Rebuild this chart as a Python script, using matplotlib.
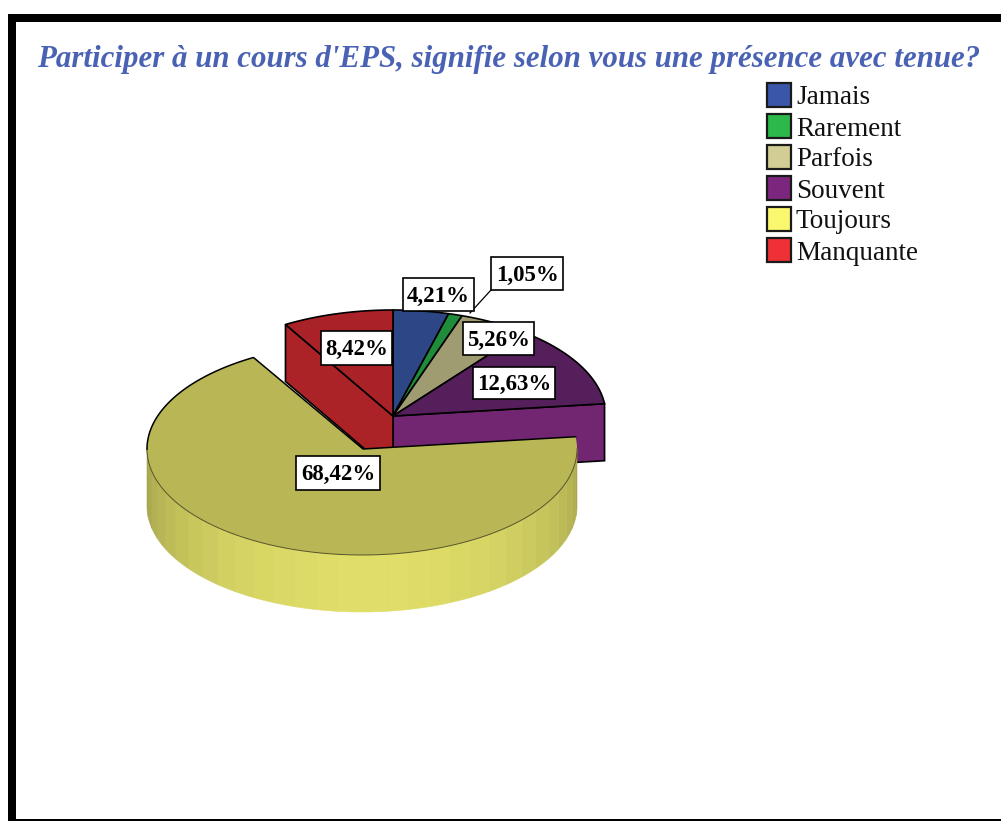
import numpy as np
import matplotlib
matplotlib.use("Agg")
import matplotlib.pyplot as plt
from matplotlib.patches import Polygon, Rectangle

categories = ["Jamais", "Rarement", "Parfois", "Souvent", "Toujours", "Manquante"]
values = [4.21, 1.05, 5.26, 12.63, 68.42, 8.42]
labels = ["4,21%", "1,05%", "5,26%", "12,63%", "68,42%", "8,42%"]
legend_colors = ["#3a56a8", "#2db84a", "#d2cd94", "#7c2680", "#fbf870", "#ef3037"]
top_colors = ["#2d4686", "#1f8c3b", "#a09c72", "#541f5b", "#b8b655", "#a92227"]
title = "Participer à un cours d'EPS, signifie selon vous une présence avec tenue?"

SERIF = "Liberation Serif"
W, H = 1001, 821
fig = plt.figure(figsize=(W / 100, H / 100), dpi=100, facecolor="white")
ax = fig.add_axes([0, 0, 1, 1])
ax.set_xlim(0, W)
ax.set_ylim(H, 0)
ax.axis("off")

# frame
ax.add_patch(Rectangle((8, 14), W - 8, 8, fc="black", ec="none"))
ax.add_patch(Rectangle((8, 14), 8, H - 14, fc="black", ec="none"))
ax.add_patch(Rectangle((8, 819), W - 8, 2, fc="black", ec="none"))

ax.text(509, 60, title, color="#4a62b4", family=SERIF, fontsize=22.25,
        style="italic", weight="bold", ha="center", va="center")

# geometry
RX, RY, DEPTH = 213, 106, 57
RX1 = 215
cx0, cy0 = 393, 416
cx1, cy1 = 362, 449
edges = np.concatenate([[0], np.cumsum(values)]) / sum(values) * 360


def rim(cx, cy, a0, a1, dy=0, rx=RX, ry=RY):
    t = np.radians(np.linspace(a0, a1, max(2, int(abs(a1 - a0) * 2))))
    return np.column_stack([cx + rx * np.sin(t), cy - ry * np.cos(t) + dy])


def pt(cx, cy, a, dy=0):
    return rim(cx, cy, a, a, dy)[0]


# cut faces of the back slices
a_s = edges[4]
a_e = edges[5]
c0 = np.array([cx0, cy0])
p = pt(cx0, cy0, a_s)
ax.add_patch(Polygon([c0, p, p + [0, DEPTH], c0 + [0, DEPTH]], fc="#722570", ec="black", lw=1.2, zorder=2))
p = pt(cx0, cy0, a_e)
ax.add_patch(Polygon([c0, p, p + [0, DEPTH], c0 + [0, DEPTH]], fc="#ab2327", ec="black", lw=1.2, zorder=2))

# tops of the back slices
for i in [0, 1, 2, 3, 5]:
    poly = np.vstack([[c0], rim(cx0, cy0, edges[i], edges[i + 1])])
    ax.add_patch(Polygon(poly, fc=top_colors[i], ec="black", lw=1.2, joinstyle="round", zorder=3))

# wall of the large slice: shaded strips
dark = np.array(matplotlib.colors.to_rgb("#a4a34b"))
light = np.array(matplotlib.colors.to_rgb("#e0de68"))
steps = np.linspace(90, 270, 31)
for a0, a1 in zip(steps[:-1], steps[1:]):
    mid = (a0 + a1) / 2
    w = max(0.0, np.cos(np.radians(mid - 178)))
    col = dark + (light - dark) * w
    poly = np.vstack([rim(cx1, cy1, a0, a1, rx=RX1), rim(cx1, cy1, a1, a0, DEPTH, rx=RX1)])
    ax.add_patch(Polygon(poly, fc=col, ec=col, lw=0.4, zorder=4))

# top of the large slice
poly = np.vstack([[[cx1 + 1, cy1]], rim(cx1, cy1, edges[4], edges[5], rx=RX1)])
ax.add_patch(Polygon(poly, fc=top_colors[4], ec="none", zorder=5))
ax.plot(*rim(cx1, cy1, 90, 270, rx=RX1).T, color="#55552a", lw=0.7, zorder=6)
back = np.vstack([rim(cx1, cy1, 270, edges[5], rx=RX1), [[cx1 + 1, cy1]],
                  rim(cx1, cy1, edges[4], edges[4], rx=RX1)])
ax.plot(*back.T, color="black", lw=1.1, zorder=6)

# leader line
ax.plot([491, 470], [290, 313], color="black", lw=0.9, zorder=7)

# value labels
boxes = {"4,21%": (403, 278, 71, 33), "1,05%": (491, 257, 72, 33), "5,26%": (463, 322, 71, 33),
         "12,63%": (473, 367, 82, 32), "68,42%": (296, 456, 84, 34), "8,42%": (321, 331, 71, 34)}
for lab in labels:
    x, y, w, h = boxes[lab]
    ax.add_patch(Rectangle((x, y), w, h, fc="white", ec="black", lw=1.2, zorder=8))
    ax.text(x + w / 2, y + h / 2 + 1.5, lab, family=SERIF, weight="bold", fontsize=16.5, ha="center",
            va="center", color="black", zorder=9)

# legend
for i, (name, col) in enumerate(zip(categories, legend_colors)):
    y = 83 + 31 * i
    ax.add_patch(Rectangle((767, y), 24, 24, fc=col, ec="#1a1a1a", lw=1.6, zorder=3))
    ax.text(796, y + 15, name, family=SERIF, fontsize=19.5, ha="left", va="center", color="#111111")

fig.savefig("out.png", dpi=100, facecolor="white")
